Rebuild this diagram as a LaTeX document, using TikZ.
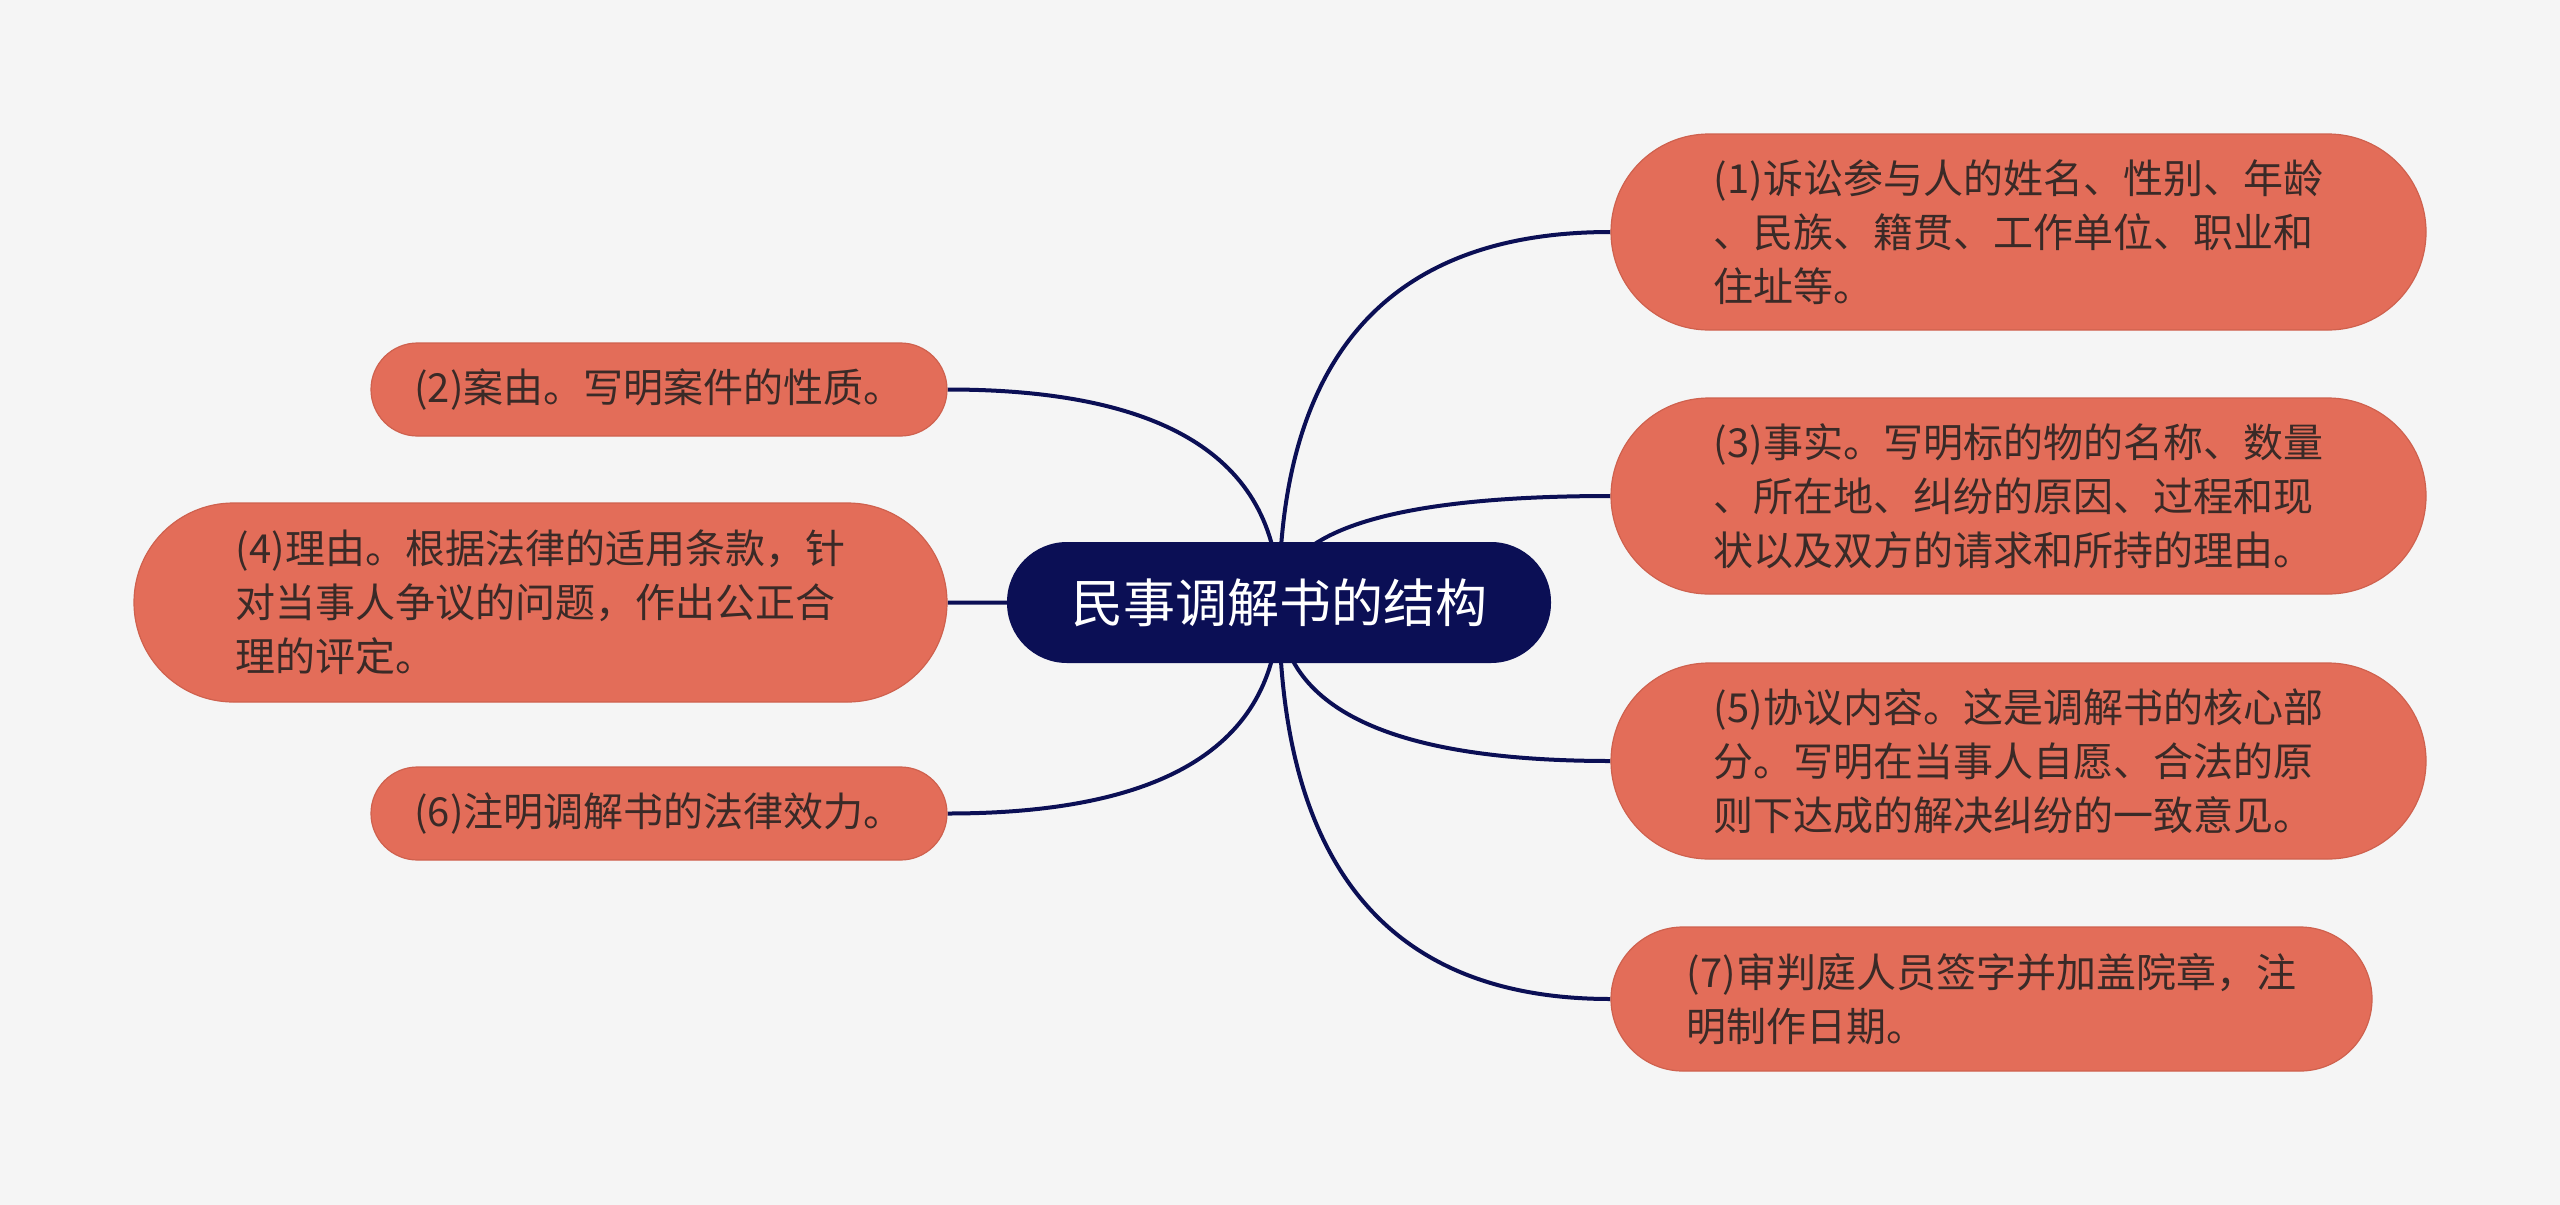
\documentclass[tikz,border=0pt]{standalone}
\usepackage{fontspec}
\newfontfamily\cjk{Noto Sans CJK SC}
\usetikzlibrary{calc}
\definecolor{bgc}{HTML}{F5F5F5}
\definecolor{navy}{HTML}{0B0F55}
\definecolor{leaf}{HTML}{E36D59}
\definecolor{leafline}{HTML}{CF614E}
\definecolor{leaftext}{HTML}{3A2A27}
\pgfdeclarelayer{bg}
\pgfsetlayers{bg,main}
\newcommand\mmlink[2]{%
  \coordinate (q#1) at (root.center |- #1.#2);
  \draw[link] (root.center) .. controls ($(root.center)!0.6667!(q#1)$) and ($(#1.#2)!0.6667!(q#1)$) .. (#1.#2);}
\begin{document}
\begin{tikzpicture}[x=1pt,y=-1pt,
  leafbox/.style={draw=leafline, line width=1.2pt, fill=leaf, text=leaftext, align=left,
    font=\cjk\fontsize{40}{54}\selectfont, inner sep=0pt},
  rootbox/.style={fill=navy, text=white, font=\cjk\fontsize{52}{60}\selectfont, inner sep=0pt,
    minimum width=544pt, minimum height=121pt, rounded corners=60pt},
  link/.style={draw=navy, line width=4pt}]
\useasboundingbox (0,0) rectangle (2560,1205);
\begin{pgfonlayer}{bg}
\fill[bgc] (0,0) rectangle (2560,1205);
\end{pgfonlayer}

\node[rootbox] (root) at (1279,602.5) {民事调解书的结构};

\node[leafbox, minimum width=815pt, minimum height=196pt, rounded corners=98pt] (n1) at (2018.5,232)
  {(1)诉讼参与人的姓名、性别、年龄\\、民族、籍贯、工作单位、职业和\\住址等。};
\node[leafbox, minimum width=815pt, minimum height=196pt, rounded corners=98pt] (n3) at (2018.5,496)
  {(3)事实。写明标的物的名称、数量\\、所在地、纠纷的原因、过程和现\\状以及双方的请求和所持的理由。};
\node[leafbox, minimum width=815pt, minimum height=196pt, rounded corners=98pt] (n5) at (2018.5,761)
  {(5)协议内容。这是调解书的核心部\\分。写明在当事人自愿、合法的原\\则下达成的解决纠纷的一致意见。};
\node[leafbox, minimum width=761pt, minimum height=144pt, rounded corners=72pt] (n7) at (1991.5,999)
  {(7)审判庭人员签字并加盖院章，注\\明制作日期。};

\node[leafbox, minimum width=576pt, minimum height=93pt, rounded corners=46.5pt] (n2) at (659,389.5)
  {(2)案由。写明案件的性质。};
\node[leafbox, minimum width=813pt, minimum height=199pt, rounded corners=99.5pt] (n4) at (540.5,602.5)
  {(4)理由。根据法律的适用条款，针\\对当事人争议的问题，作出公正合\\理的评定。};
\node[leafbox, minimum width=576pt, minimum height=93pt, rounded corners=46.5pt] (n6) at (659,813.5)
  {(6)注明调解书的法律效力。};

\begin{pgfonlayer}{bg}
\mmlink{n1}{west}
\mmlink{n3}{west}
\mmlink{n5}{west}
\mmlink{n7}{west}
\mmlink{n2}{east}
\mmlink{n4}{east}
\mmlink{n6}{east}
\end{pgfonlayer}
\end{tikzpicture}
\end{document}
